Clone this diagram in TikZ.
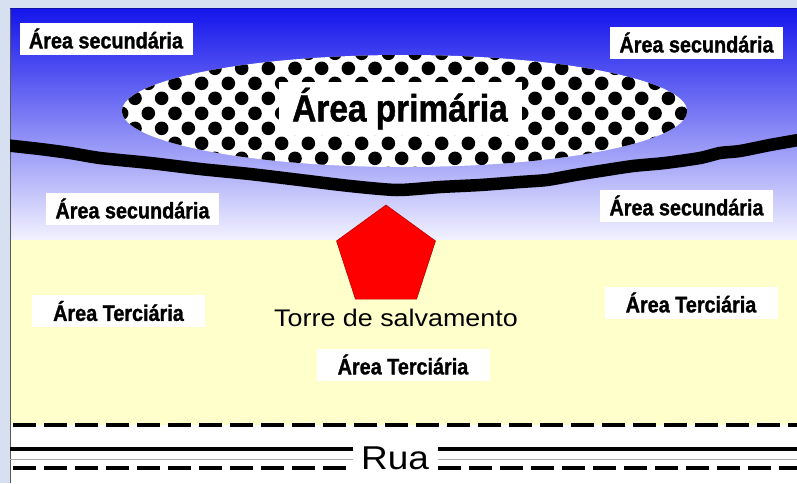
\documentclass[tikz,border=0pt]{standalone}
\usepackage{fontspec}
\setmainfont{Liberation Sans}
\newfontfamily\lblfont[FakeStretch=0.88, BoldFeatures={FakeBold=1.2}]{Liberation Sans}
\newfontfamily\widefont[FakeStretch=1.12]{Liberation Sans}
\usetikzlibrary{shapes.geometric}
\definecolor{framebg}{RGB}{214,224,240}
\definecolor{skytop}{RGB}{20,20,236}
\definecolor{skymid}{RGB}{118,118,244}
\definecolor{skybot}{RGB}{242,242,255}
\definecolor{sand}{RGB}{255,255,204}
\definecolor{towerred}{RGB}{255,0,0}
\definecolor{towerline}{RGB}{190,0,0}
\definecolor{thingrey}{RGB}{170,170,170}
\begin{document}
\begin{tikzpicture}[x=1pt,y=-1pt,
  lbl/.style={fill=white, inner sep=0pt, minimum width=173pt, minimum height=32pt,
    font=\lblfont\bfseries\fontsize{22.5}{25}\selectfont},
  bigl/.style={fill=white, inner sep=0pt, minimum width=243pt, minimum height=53pt,
    font=\lblfont\bfseries\fontsize{38}{41}\selectfont},
  plain/.style={inner sep=0pt, font=\widefont\fontsize{24}{28}\selectfont},
  dashline/.style={line width=4pt, dash pattern=on 23pt off 8pt},
  solidline/.style={line width=4pt},
  dot/.style={fill=black}
]
\useasboundingbox (0,0) rectangle (797,483);
% frame
\fill[framebg] (0,0) rectangle (797,483);
% sky
\shade[top color=skytop, middle color=skymid, bottom color=skybot] (10,8) rectangle (797,240);
% sand
\fill[sand] (10,240) rectangle (797,425);
% road
\fill[white] (10,425) rectangle (797,483);
\draw[gray!70!black, line width=0.8pt] (10,8) -- (10,483);
\draw[skytop!70!black, line width=0.8pt] (10,8) -- (797,8);
% shoreline
\begin{scope}
\clip (10,8) rectangle (797,240);
\draw[line width=12.5pt, line join=round] plot[smooth, tension=0.4] coordinates {
 (4,145) (40,149) (70,153) (100,158) (150,163) (200,169) (250,174) (300,180) (350,186) (397,190)
 (440,187) (480,185) (520,182) (547,180) (575,175) (600,171) (633,166) (665,163) (700,158) (720,153) (740,151) (770,145) (804,139)};
\end{scope}
% primary area ellipse with dots
\fill[white] (404.5,111) ellipse [x radius=282.5, y radius=56];
\begin{scope}
\clip (404.5,111) ellipse [x radius=282.5, y radius=56];
\foreach \k in {0,...,8}{
  \pgfmathsetmacro\off{mod(\k,2)==0 ? 0 : 13.33}
  \foreach \m in {-3,...,21}{
    \fill[dot] ({175+26.67*\m+\off},{53.33+15*\k}) circle[radius=6.8];
  }
}
\end{scope}
\node[bigl] (prim) at (400,108.5) {Área primária};
% labels
\node[lbl] (sec1) at (106,38.5) {Área secundária};
\node[lbl] (sec2) at (696.5,42.5) {Área secundária};
\node[lbl] (sec3) at (132.5,208.5) {Área secundária};
\node[lbl] (sec4) at (686.5,205.5) {Área secundária};
\node[lbl] (ter1) at (118.5,311) {Área Terciária};
\node[lbl] (ter2) at (691,302.5) {Área Terciária};
\node[lbl] (ter3) at (403,364.5) {Área Terciária};
% tower
\node[regular polygon, regular polygon sides=5, minimum size=104pt, inner sep=0pt, outer sep=0pt,
  fill=towerred, draw=towerline, line width=0.6pt] (tower) at (386,257) {};
\node[plain] (torre) at (396,318) {Torre de salvamento};
% road lines
\node[plain, font=\widefont\fontsize{33}{36}\selectfont] (rua) at (395,458) {Rua};
\coordinate (tl) at (13,425);
\coordinate (tr) at (797,425);
\draw[dashline] (tl) -- (tr);
\coordinate (sl1) at (10,448.5);
\coordinate (sl2) at (353,448.5);
\coordinate (sr1) at (438,448.5);
\coordinate (sr2) at (797,448.5);
\draw[solidline] (sl1) -- (sl2);
\draw[solidline] (sr1) -- (sr2);
\draw[thingrey, line width=1.2pt] (10,459.5) -- (353,459.5);
\draw[thingrey, line width=1.2pt] (438,459.5) -- (797,459.5);
\draw[dashline] (13,467.5) -- (353,467.5);
\draw[dashline] (438,467.5) -- (797,467.5);
\end{tikzpicture}
\end{document}
